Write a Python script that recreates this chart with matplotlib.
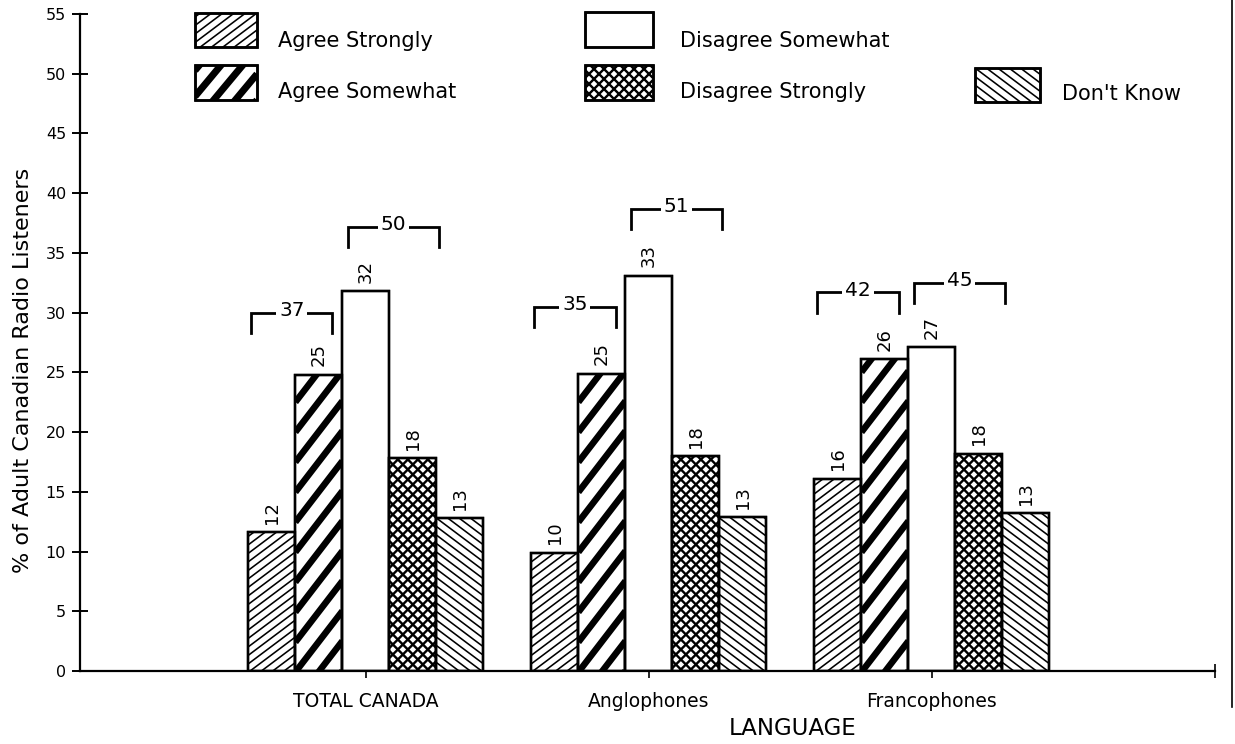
import matplotlib
matplotlib.use('Agg')
import matplotlib.pyplot as plt
from matplotlib.patches import Rectangle
from matplotlib.collections import LineCollection
from matplotlib.lines import Line2D
from matplotlib.transforms import IdentityTransform

# data (% of adult Canadian radio listeners)
groups = ['TOTAL CANADA', 'Anglophones', 'Francophones']
categories = ['Agree Strongly', 'Agree Somewhat', 'Disagree Somewhat',
              'Disagree Strongly', "Don't Know"]
agree_strongly = [11.6, 9.9, 16.1]
agree_somewhat = [24.8, 24.9, 26.1]
disagree_somewhat = [31.8, 33.1, 27.1]
disagree_strongly = [17.8, 18.0, 18.2]
dont_know = [12.8, 12.9, 13.2]
series = [agree_strongly, agree_somewhat, disagree_somewhat, disagree_strongly, dont_know]

# heights of the "agree" / "disagree" total brackets
agree_bracket_y = [30.0, 30.5, 31.7]
disagree_bracket_y = [37.2, 38.7, 32.5]

plt.rcParams['font.family'] = 'DejaVu Sans'

W, H = 1235, 744
fig = plt.figure(figsize=(W / 100, H / 100), dpi=100)
ax = fig.add_axes([80 / W, 1 - 671 / H, 1135 / W, 657 / H])
ax.set_xlim(-1.01, 3.0)
ax.set_ylim(0, 55)

width = 0.166
offsets = [(i - 2) * width for i in range(5)]

# fill style per category: list of (slope, vertical period px, line width px)
fills = [
    [(0.75, 8.5, 1.6)],
    [(1.3, 30, 6.5)],
    [],
    [(1.0, 10, 2.4), (-1.0, 10, 2.4)],
    [(-0.75, 8.5, 1.6)],
]
legend_fills = [
    [(0.75, 8.5, 1.6)],
    [(1.2, 26, 7)],
    [],
    [(1.0, 10, 2.4), (-1.0, 10, 2.4)],
    [(-0.75, 8.5, 1.6)],
]


def hatch_lines(patch, container, spec):
    # diagonal lines drawn in pixels and clipped to the patch
    bb = patch.get_window_extent()
    x0, y0, x1, y1 = bb.x0, bb.y0, bb.x1, bb.y1
    for s, period, lw in spec:
        lo = y0 - max(s * x0, s * x1)
        hi = y1 - min(s * x0, s * x1)
        segs = []
        c = lo
        while c < hi:
            segs.append([(x0, s * x0 + c), (x1, s * x1 + c)])
            c += period
        lc = LineCollection(segs, colors='black', linewidths=lw * 0.72,
                            transform=IdentityTransform(), zorder=patch.get_zorder() + 0.1)
        if container is ax:
            ax.add_collection(lc, autolim=False)
        else:
            fig.add_artist(lc)
        lc.set_clip_path(patch)


for k, vals in enumerate(series):
    xs = [g + offsets[k] for g in range(len(groups))]
    bars = ax.bar(xs, vals, width=width, color='white', edgecolor='black',
                  linewidth=1.7, zorder=2)
    for b, v in zip(bars, vals):
        hatch_lines(b, ax, fills[k])
        ax.text(b.get_x() + width / 2, v + 0.7, f'{round(v)}', rotation=90,
                ha='center', va='bottom', fontsize=13)
    # outline again on top of the hatching
    ax.bar(xs, vals, width=width, fill=False, edgecolor='black', linewidth=1.7, zorder=3)

# total brackets
drop = 1.7
for g in range(len(groups)):
    pairs = [
        (0, 1, agree_bracket_y[g], 0.01, -0.035),
        (2, 3, disagree_bracket_y[g], 0.02, 0.01),
    ]
    for a, b, yb, dl, dr in pairs:
        xl = g + offsets[a] - width / 2 + dl
        xr = g + offsets[b] + width / 2 + dr
        ax.plot([xl, xl, xr, xr], [yb - drop, yb, yb, yb - drop], color='black',
                lw=2, solid_joinstyle='miter', zorder=3)
        total = round(series[a][g]) + round(series[b][g])
        ax.text((xl + xr) / 2, yb + 0.15, str(total), ha='center', va='center',
                fontsize=14.5, zorder=4,
                bbox=dict(facecolor='white', edgecolor='none', pad=2))

# axes styling
for s in ['top', 'right']:
    ax.spines[s].set_visible(False)
for s in ['left', 'bottom']:
    ax.spines[s].set_linewidth(1.6)
ax.set_yticks(range(0, 56, 5))
ax.tick_params(axis='y', direction='inout', length=12, width=1.4, labelsize=11.5, pad=4)
ax.set_xticks(range(len(groups)))
ax.set_xticklabels(groups)
ax.set_xticks([3.0], minor=True)
ax.tick_params(axis='x', which='both', direction='inout', length=10, width=1.2,
               labelsize=13.5, pad=10)
ax.set_ylabel('% of Adult Canadian Radio Listeners', fontsize=16)
ax.yaxis.set_label_coords(-0.041, 0.458)
ax.set_xlabel('LANGUAGE', fontsize=16.5)
ax.xaxis.set_label_coords(0.628, -0.07)

# legend drawn by hand (pixel boxes from top-left)
legend_boxes = [(195, 13, 62, 34), (195, 65, 62, 35), (585, 12, 68, 35),
                (585, 65, 68, 35), (975, 68, 65, 34)]
legend_text = [(278, 47), (278, 98), (680, 47), (680, 98), (1062, 100)]
for k, ((bx, by, bw, bh), (tx, ty)) in enumerate(zip(legend_boxes, legend_text)):
    r = Rectangle((bx / W, 1 - (by + bh) / H), bw / W, bh / H, transform=fig.transFigure,
                  facecolor='white', edgecolor='black', linewidth=1.8, zorder=5)
    fig.add_artist(r)
    hatch_lines(r, fig, legend_fills[k])
    fig.add_artist(Rectangle((bx / W, 1 - (by + bh) / H), bw / W, bh / H,
                             transform=fig.transFigure, fill=False, edgecolor='black',
                             linewidth=1.8, zorder=6))
    fig.text(tx / W, 1 - ty / H, categories[k], fontsize=15, va='baseline', ha='left')

# right page border
fig.add_artist(Line2D([1232 / W, 1232 / W], [0.05, 1.0], transform=fig.transFigure,
                      color='black', lw=1.2))

fig.savefig('out.png', dpi=100)
